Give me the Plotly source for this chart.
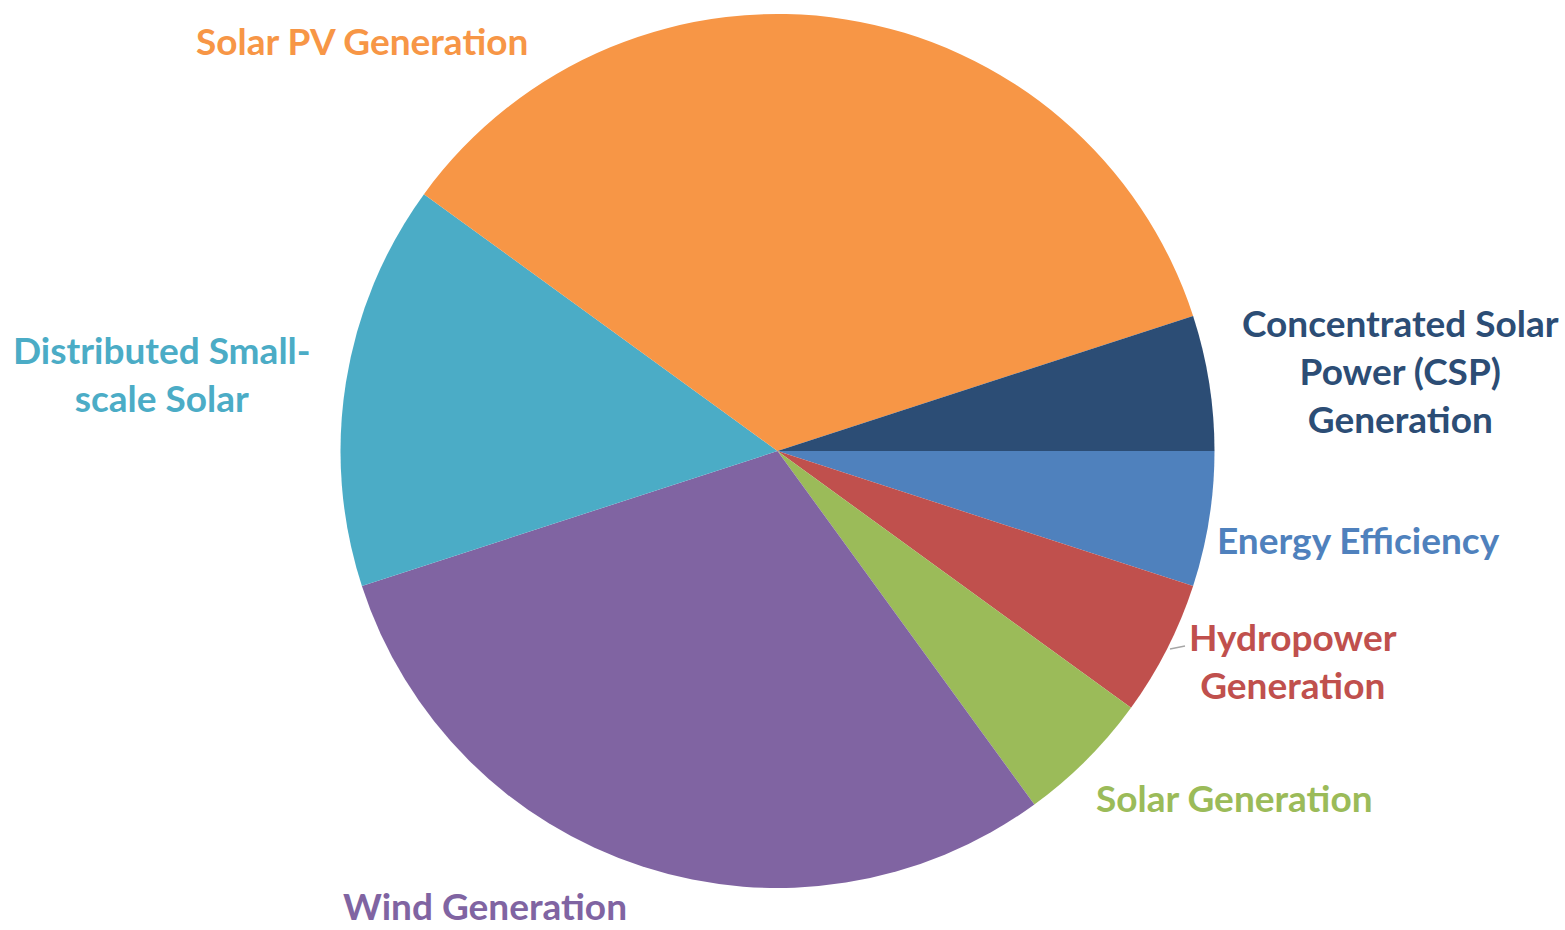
import plotly.graph_objects as go

labels = ["Energy Efficiency", "Hydropower Generation", "Solar Generation",
          "Wind Generation", "Distributed Small-scale Solar", "Solar PV Generation",
          "Concentrated Solar Power (CSP) Generation"]
values = [5, 5, 5, 30, 15, 35, 5]
colors = ["#4F81BD", "#C0504D", "#9BBB59", "#8064A2", "#4BACC6", "#F79646", "#2C4D75"]

label_text = ["Energy Efficiency", "Hydropower<br>Generation", "Solar Generation",
              "Wind Generation", "Distributed Small-<br>scale Solar", "Solar PV Generation",
              "Concentrated Solar<br>Power (CSP)<br>Generation"]
label_pos = [(1358, 539), (1293, 660), (1234, 797), (485, None), (162, 373), (362, 41), (1400, 370)]

W, H = 1565, 930

fig = go.Figure(go.Pie(
    labels=labels, values=values, sort=False, direction="clockwise", rotation=90,
    marker=dict(colors=colors, line=dict(width=0)),
    textinfo="none", hoverinfo="label+percent", showlegend=False,
    domain=dict(x=[340 / W, 1215 / W], y=[1 - 888 / H, 1 - 14 / H]),
))

for t, (x, y), c in zip(label_text, label_pos, colors):
    if y is None:
        yy, ya = 0, "bottom"
    else:
        yy, ya = 1 - y / H, "middle"
    fig.add_annotation(text=t, x=x / W, y=yy, xref="paper", yref="paper",
                       showarrow=False, xanchor="center", yanchor=ya,
                       font=dict(family="Lato", size=37, color=c, weight="bold"))

fig.add_shape(type="line", xref="paper", yref="paper",
              x0=1170 / W, y0=1 - 649 / H, x1=1185 / W, y1=1 - 646 / H,
              line=dict(color="#A6A6A6", width=1.5))

fig.update_layout(width=W, height=H, margin=dict(l=0, r=0, t=0, b=0),
                  paper_bgcolor="white", plot_bgcolor="white")
fig.write_html("out.html")
